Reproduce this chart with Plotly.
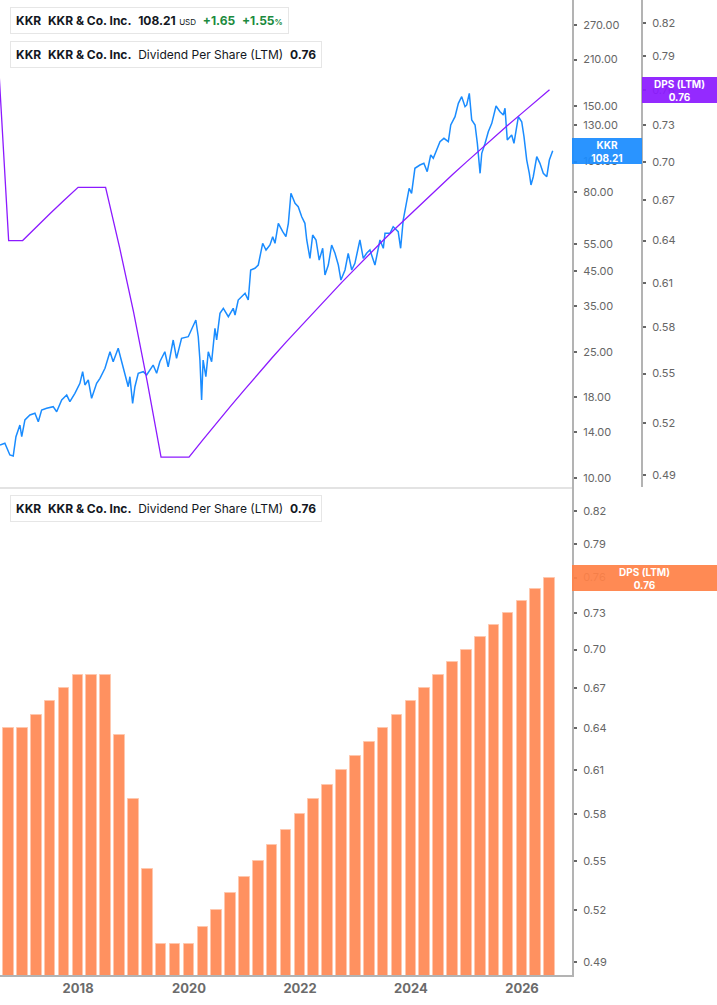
import math
import pandas as pd
import plotly.graph_objects as go

# KKR daily close (USD)
price_dates = [
    '2016-08-05', '2016-09-06', '2016-10-09', '2016-10-31', '2016-11-18', '2016-12-14',
    '2016-12-26', '2017-01-16', '2017-02-18', '2017-03-23', '2017-04-14', '2017-05-06',
    '2017-06-08', '2017-07-21', '2017-08-13', '2017-09-15', '2017-10-18', '2017-11-08',
    '2017-12-11', '2018-01-13', '2018-01-31', '2018-02-15', '2018-03-09', '2018-03-31',
    '2018-05-03', '2018-05-25', '2018-06-27', '2018-07-30', '2018-08-20', '2018-09-22',
    '2018-10-15', '2018-11-05', '2018-11-27', '2018-12-08', '2018-12-26', '2019-01-10',
    '2019-02-01', '2019-03-06', '2019-03-28', '2019-05-10', '2019-06-02', '2019-06-23',
    '2019-07-26', '2019-08-17', '2019-09-19', '2019-10-11', '2019-11-13', '2019-12-27',
    '2020-01-18', '2020-02-15', '2020-03-02', '2020-03-13', '2020-03-24', '2020-04-03',
    '2020-04-21', '2020-05-07', '2020-05-29', '2020-06-20', '2020-07-01', '2020-07-23',
    '2020-08-14', '2020-09-16', '2020-10-18', '2020-10-30', '2020-11-20', '2021-01-04',
    '2021-01-25', '2021-02-10', '2021-03-10', '2021-04-01', '2021-04-30', '2021-05-22',
    '2021-06-17', '2021-07-05', '2021-07-20', '2021-08-11', '2021-09-09', '2021-09-30',
    '2021-10-16', '2021-11-02', '2021-11-29', '2021-12-20', '2022-01-12', '2022-02-02',
    '2022-02-14', '2022-03-07', '2022-03-25', '2022-04-16', '2022-05-07', '2022-05-30',
    '2022-06-14', '2022-07-06', '2022-07-28', '2022-08-19', '2022-09-10', '2022-09-27',
    '2022-10-24', '2022-11-14', '2022-12-07', '2022-12-28', '2023-01-30', '2023-02-21',
    '2023-03-15', '2023-04-06', '2023-05-09', '2023-06-11', '2023-07-03', '2023-07-14',
    '2023-08-16', '2023-09-06', '2023-10-09', '2023-10-25', '2023-11-11', '2023-12-04',
    '2023-12-20', '2024-01-05', '2024-01-27', '2024-02-29', '2024-03-26', '2024-04-17',
    '2024-05-10', '2024-05-27', '2024-06-18', '2024-07-10', '2024-08-05', '2024-09-03',
    '2024-09-19', '2024-10-17', '2024-11-08', '2024-11-30', '2024-12-22', '2025-01-02',
    '2025-01-19', '2025-02-04', '2025-02-26', '2025-03-13', '2025-03-31', '2025-04-11',
    '2025-05-03', '2025-05-24', '2025-06-16', '2025-07-14', '2025-08-09', '2025-08-31',
    '2025-09-11', '2025-09-26', '2025-10-25', '2025-11-09', '2025-12-08', '2025-12-30',
    '2026-01-14', '2026-02-01', '2026-02-18', '2026-03-01', '2026-03-16', '2026-04-08',
    '2026-04-29', '2026-05-21', '2026-06-13', '2026-06-30', '2026-07-22',
]
price_close = [
    12.72, 12.88, 11.83, 11.74, 13.51, 14.71,
    13.51, 15.26, 15.82, 16.02, 15.07, 16.41,
    16.61, 16.81, 16.20, 17.64, 18.29, 17.43,
    18.52, 19.92, 21.68, 19.68, 20.41, 17.86,
    19.92, 20.66, 22.22, 25.07, 23.31, 25.70,
    23.31, 21.43, 19.43, 20.90, 17.22, 19.43,
    21.43, 21.68, 21.16, 22.75, 21.43, 23.31,
    25.07, 22.47, 27.30, 23.89, 27.64, 27.96,
    29.35, 31.58, 27.96, 23.60, 17.64, 23.60,
    20.90, 25.07, 23.31, 29.72, 27.30, 33.15,
    34.38, 32.35, 34.38, 32.75, 36.52, 38.34,
    36.52, 45.43, 45.99, 47.11, 55.18, 52.55,
    54.49, 57.88, 55.18, 63.81, 60.03, 57.88,
    63.81, 79.37, 73.80, 72.00, 66.94, 63.81,
    56.51, 49.46, 58.61, 56.51, 48.85, 53.20,
    43.80, 47.11, 54.49, 51.29, 47.11, 42.24,
    45.43, 51.29, 45.43, 47.70, 56.51, 49.46,
    51.29, 52.55, 47.11, 56.51, 53.20, 59.33,
    59.33, 62.26, 60.03, 53.20, 65.36, 73.80,
    82.31, 79.37, 95.21, 97.52, 98.73, 92.87,
    104.87, 102.39, 108.76, 115.53, 118.42, 115.53,
    130.45, 138.57, 152.76, 160.28, 149.03, 150.90,
    164.28, 135.29, 130.45, 114.19, 91.80, 106.18,
    114.19, 124.25, 132.06, 149.79, 143.70, 140.29,
    147.31, 116.96, 121.30, 114.19, 138.57, 133.62,
    119.82, 101.12, 91.80, 84.31, 89.55, 103.59,
    98.73, 91.80, 89.55, 101.12, 108.21,
]

# Dividend per share (LTM), quarterly, first value is the quarter before the window
dps_dates = pd.date_range('2016-07-01', periods=41, freq='QS')
dps_values = [
    0.845, 0.64, 0.64, 0.65, 0.66, 0.67, 0.68, 0.68, 0.68, 0.635,
    0.59, 0.545, 0.50, 0.50, 0.50, 0.51, 0.52, 0.53, 0.54, 0.55,
    0.56, 0.57, 0.58, 0.59, 0.60, 0.61, 0.62, 0.63, 0.64, 0.65,
    0.66, 0.67, 0.68, 0.69, 0.70, 0.71, 0.72, 0.73, 0.74, 0.75,
    0.76,
]

price_ticks = [10, 14, 18, 25, 35, 45, 55, 80, 100, 130, 150, 210, 270]
dps_ticks = [0.49, 0.52, 0.55, 0.58, 0.61, 0.64, 0.67, 0.70, 0.73, 0.76, 0.79, 0.82]

last_price = 108.21
last_change = 1.65
last_change_pct = 1.55
last_dps = dps_values[-1]

BLUE = '#1A8CFF'
PURPLE = '#8C1AFF'
ORANGE = '#FF9160'
W, H = 717, 1005
FONT = 'Inter, Roboto, Arial, sans-serif'

fig = go.Figure()

fig.add_trace(go.Scatter(x=price_dates, y=price_close, mode='lines',
                         line=dict(color=BLUE, width=1.5),
                         xaxis='x', yaxis='y'))
fig.add_trace(go.Scatter(x=dps_dates, y=dps_values, mode='lines',
                         line=dict(color=PURPLE, width=1.3),
                         xaxis='x', yaxis='y3'))
fig.add_trace(go.Bar(x=dps_dates[1:], y=dps_values[1:],
                     marker=dict(color=ORANGE, line=dict(color='#FFC7AD', width=1)),
                     width=70 * 86400000,
                     xaxis='x2', yaxis='y2'))

x_range = ['2016-08-05', '2026-11-26']
axis_grey = '#B3B3B3'
tick_font = dict(family=FONT, size=11, color='#666666')

ytick_common = dict(type='log', side='right', showgrid=False, zeroline=False,
                    showline=True, linecolor=axis_grey, linewidth=2,
                    ticks='outside', ticklen=3, tickwidth=2, tickcolor='#666666',
                    tickfont=tick_font, ticklabelstandoff=4)

fig.update_layout(
    width=W, height=H,
    margin=dict(l=0, r=0, t=0, b=0),
    paper_bgcolor='white', plot_bgcolor='white',
    showlegend=False,
    bargap=0,
    xaxis=dict(domain=[0, 572 / W], range=x_range, anchor='y',
               showticklabels=False, showgrid=False, zeroline=False,
               showline=True, linecolor='#E3E3E3', linewidth=1.5, ticks=''),
    xaxis2=dict(domain=[0, 572 / W], range=x_range, anchor='y2',
                showgrid=False, zeroline=False, showline=True,
                linecolor=axis_grey, linewidth=2, ticks='',
                tick0='2018-01-01', dtick='M24', tickformat='%Y',
                tickfont=dict(family=FONT, size=13, color='#6B6B6B', weight='bold')),
    yaxis=dict(domain=[1 - 487 / H, 1], anchor='x',
               range=[math.log10(9.37), math.log10(323.9)],
               tickvals=price_ticks, ticktext=['%.2f' % v for v in price_ticks],
               **ytick_common),
    yaxis3=dict(overlaying='y', anchor='free', position=642 / W,
                range=[math.log10(0.4833), math.log10(0.8418)],
                tickvals=dps_ticks, ticktext=['%.2f' % v for v in dps_ticks],
                **ytick_common),
    yaxis2=dict(domain=[1 - 975 / H, 1 - 487 / H], anchor='x2',
                range=[math.log10(0.4828), math.log10(0.8428)],
                tickvals=dps_ticks, ticktext=['%.2f' % v for v in dps_ticks],
                **ytick_common),
)

# legend-like header boxes
dark = '#131722'
green = '#1B8A3E'
small = 'font-size:8px'
headers = [
    (20.5, BLUE,
     '<b>KKR</b>  <b>KKR &amp; Co. Inc.</b>  <b>%.2f</b> <span style="%s">USD</span>  '
     '<span style="color:%s"><b>+%.2f</b>  <b>+%.2f</b><span style="%s"><b>%%</b></span></span>'
     % (last_price, small, green, last_change, last_change_pct, small)),
    (54.5, PURPLE,
     '<b>KKR</b>  <b>KKR &amp; Co. Inc.</b>  Dividend Per Share (LTM)  <b>%.2f</b>' % last_dps),
    (508.5, ORANGE,
     '<b>KKR</b>  <b>KKR &amp; Co. Inc.</b>  Dividend Per Share (LTM)  <b>%.2f</b>' % last_dps),
]
for ypix, col, txt in headers:
    fig.add_annotation(xref='paper', yref='paper', x=10 / W, y=1 - ypix / H,
                       xanchor='left', yanchor='middle', showarrow=False,
                       text=txt, align='left',
                       font=dict(family=FONT, size=12, color=dark),
                       bgcolor='white', bordercolor='#E6E6E6', borderwidth=1,
                       borderpad=5)
    fig.add_shape(type='rect', xref='paper', yref='paper',
                  x0=10 / W, x1=13 / W,
                  y0=1 - (ypix + 12.5) / H, y1=1 - (ypix - 12.5) / H,
                  fillcolor=col, line=dict(width=0), layer='above')

# last value labels on the axes
labels = [
    ('y', 572, 70, last_price, 'rgba(26,140,255,0.93)', 'KKR'),
    ('y3', 642, 75, last_dps, 'rgba(140,26,255,0.93)', 'DPS (LTM)'),
    ('y2', 572, 145, last_dps, 'rgba(255,129,71,0.93)', 'DPS (LTM)'),
]
for yref, xpix, wpix, val, col, name in labels:
    fig.add_annotation(xref='paper', yref=yref, x=xpix / W, y=math.log10(val),
                       xanchor='left', yanchor='middle', showarrow=False,
                       text='<b>%s<br>%.2f</b>' % (name, val),
                       font=dict(family=FONT, size=10, color='white'),
                       bgcolor=col, width=wpix, height=26, borderpad=0,
                       borderwidth=0, align='center')

# no default page margin, so the figure sits in the window's corner
fig.write_html('out.html', config={'displayModeBar': False},
               post_script="document.body.style.margin='0px';")
